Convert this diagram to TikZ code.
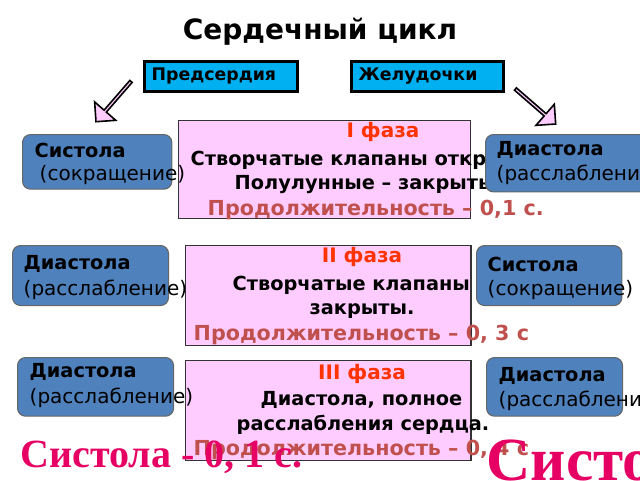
\documentclass[tikz,border=0pt]{standalone}
\usepackage{fontspec}
\setmainfont{DejaVu Sans}
\newfontfamily\serifb{Liberation Serif}
\usetikzlibrary{shapes.arrows}
\definecolor{cyanbox}{RGB}{0,176,240}
\definecolor{pinkbox}{RGB}{255,204,255}
\definecolor{bluebox}{RGB}{79,129,189}
\definecolor{phred}{RGB}{255,51,0}
\definecolor{durred}{RGB}{192,80,77}
\definecolor{magred}{RGB}{230,0,100}
\definecolor{arrowpink}{RGB}{255,204,255}
\tikzset{
 hdr/.style={draw=black,line width=2pt,fill=cyanbox,anchor=north west,minimum height=22.5pt,inner sep=0pt},
 phase/.style={draw=black!80,line width=1pt,fill=pinkbox,anchor=north west,inner sep=0pt},
 state/.style={draw=black!60,line width=0.8pt,fill=bluebox,rounded corners=6pt,anchor=north west,inner sep=0pt},
 bt/.style={font=\bfseries\fontsize{14.5}{16}\selectfont},
 nt/.style={font=\fontsize{15}{17}\selectfont},
 fz/.style={font=\bfseries\fontsize{15}{17}\selectfont,text=phred},
 dur/.style={font=\bfseries\fontsize{15.5}{17}\selectfont,text=durred},
 blk/.style={single arrow,draw=black,line width=1.2pt,fill=arrowpink,minimum height=40pt,minimum width=21pt,single arrow head extend=5pt,inner sep=0pt,single arrow head indent=0pt}
}
\begin{document}
\begin{tikzpicture}[x=0.75pt,y=-0.75pt]
\useasboundingbox (0,0) rectangle (640,480);
\clip (0,0) rectangle (640,480);
\fill[white] (0,0) rectangle (640,480);
\node[font=\bfseries\fontsize{21}{24}\selectfont] (title) at (320,32) {Сердечный цикл};
\node[hdr,minimum width=115pt] (pred) at (143,60) {};
\node[anchor=west,font=\bfseries\fontsize{13}{15}\selectfont] (predt) at (147,76) {Предсердия};
\node[hdr,minimum width=114pt] (zhel) at (350,60) {};
\node[anchor=west,font=\bfseries\fontsize{13}{15}\selectfont] (zhelt) at (354,76) {Желудочки};
\node[blk,rotate=229] (a1) at (114,101) {};
\node[blk,rotate=-41] (a2) at (535,106) {};
% phase 1
\node[phase,minimum width=219pt,minimum height=73.5pt] (p1) at (178,120) {};
\node[fz] (p1a) at (383,132) {I фаза};
\node[bt,anchor=west] (p1b) at (186,160) {Створчатые клапаны открыты.};
\node[bt,anchor=west] (p1c) at (230,185) {Полулунные – закрыты.};
\node[dur,anchor=west] (p1d) at (203,210) {Продолжительность – 0,1 с.};
\node[state,minimum width=112pt,minimum height=41pt] (s1l) at (22,134) {};
\node[bt,anchor=west] at (30,150) {Систола};
\node[nt,anchor=west] at (35,175) {(сокращение)};
\node[state,minimum width=130pt,minimum height=43pt] (s1r) at (485,134) {};
\node[bt,anchor=west] at (492,150) {Диастола};
\node[nt,anchor=west] at (492,175) {(расслабление)};
% phase 2
\node[phase,minimum width=214pt,minimum height=75pt] (p2) at (185,245) {};
\node[fz] (p2a) at (362,257) {II фаза};
\node[bt,anchor=west] (p2b) at (228,285) {Створчатые клапаны};
\node[bt] (p2c) at (362,311) {закрыты.};
\node[dur,anchor=west] (p2d) at (189,335) {Продолжительность – 0, 3 с};
\node[state,minimum width=117pt,minimum height=45pt] (s2l) at (12,245) {};
\node[bt,anchor=west] at (19,264) {Диастола};
\node[nt,anchor=west] at (19,290) {(расслабление)};
\node[state,minimum width=109pt,minimum height=45pt] (s2r) at (476,245) {};
\node[bt,anchor=west] at (483,264) {Систола};
\node[nt,anchor=west] at (483,290) {(сокращение)};
% phase 3
\node[phase,minimum width=214pt,minimum height=75pt] (p3) at (185,360) {};
\node[fz] (p3a) at (362,374) {III фаза};
\node[bt,anchor=west] (p3b) at (256,400) {Диастола, полное};
\node[bt,anchor=west] (p3c) at (232,425) {расслабления сердца.};
\node[dur,anchor=west] (p3d) at (189,450) {Продолжительность – 0, 4 с};
\node[state,minimum width=117pt,minimum height=44pt] (s3l) at (17,357) {};
\node[bt,anchor=west] at (25,372) {Диастола};
\node[nt,anchor=west] at (25,398) {(расслабление)};
\node[state,minimum width=102pt,minimum height=44pt] (s3r) at (486,357) {};
\node[bt,anchor=west] at (494,376) {Диастола};
\node[nt,anchor=west] at (494,401) {(расслабление)};
\node[anchor=west,font=\serifb\bfseries\fontsize{30}{32}\selectfont,text=magred] (b1) at (16,457) {Систола - 0, 1 с.};
\node[anchor=west,font=\serifb\bfseries\fontsize{46}{50}\selectfont,text=magred] (b2) at (482,460) {Систола};
\end{tikzpicture}
\end{document}
